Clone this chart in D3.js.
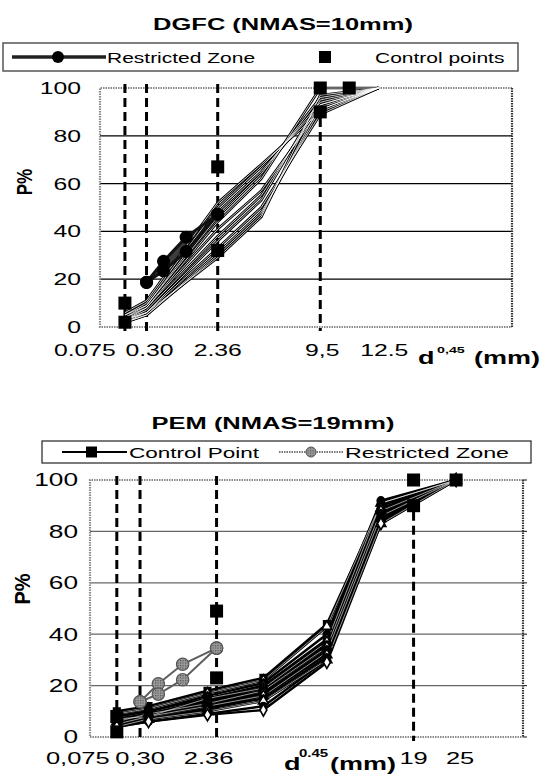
<!DOCTYPE html>
<html><head><meta charset="utf-8">
<script src="https://cdn.jsdelivr.net/npm/d3@7"></script>
<style>
html,body{margin:0;padding:0;background:#fff;}
svg{display:block;font-family:Arial,"Liberation Sans",sans-serif;}
</style></head><body>
<svg id="chart" width="545" height="775">
  <defs>
    <pattern id="dots" width="2.5" height="2.5" patternUnits="userSpaceOnUse">
      <rect width="2.5" height="2.5" fill="#9a9a9a"/>
      <rect width="1.2" height="1.2" fill="#555"/>
    </pattern>
  </defs>
</svg>
<script>
// ===== DGFC (NMAS = 10 mm) =====
const dgfcSieves = [0.075, 0.3, 2.36, 4.75, 9.5, 16];
const dgfcCurves = [
  [6, 11, 52, 68, 90, 100],
  [5, 10, 50, 67, 92, 100],
  [5, 9, 48, 65, 94, 100],
  [4, 9, 46, 64, 96, 100],
  [4, 8, 44, 62, 100, 100],
  [3, 8, 41, 57, 91, 100],
  [3, 7, 38, 55, 93, 100],
  [2, 6, 36, 53, 95, 100],
  [3, 6, 33, 50, 89, 100],
  [2, 5, 31, 48, 91, 100],
  [2, 5, 30, 47, 93, 100],
  [3, 6, 29, 46, 97, 100]
];
const dgfcControlSieves = [0.075, 0.075, 2.36, 2.36, 9.5, 9.5, 12.5];
const dgfcControlValues = [2, 10, 32, 67, 90, 100, 100];
const dgfcZoneSieves = [0.3, 0.6, 1.18, 2.36];
const dgfcZoneUpper = [18.7, 27.5, 37.6, 47.2];
const dgfcZoneLower = [18.7, 23.5, 31.6, 47.2];
const dgfcGuideSieves = [0.075, 0.3, 2.36, 9.5];
const dgfcGuideTop = [100, 100, 100, 90];
const dgfcTickValues = [0.075, 0.3, 2.36, 9.5, 12.5];
const dgfcTickLabels = ["0.075", "0.30", "2.36", "9,5", "12.5"];

// ===== PEM (NMAS = 19 mm) =====
const pemSieves = [0.075, 0.425, 2, 4.75, 9.5, 15, 25];
const pemCurves = [
  [10, 12, 18, 23, 44, 90, 100],
  [9, 11, 17, 22, 43, 91, 100],
  [8, 10, 16, 21, 40, 92, 100],
  [8, 10, 15, 20, 38, 90, 100],
  [7, 8, 15, 19, 37, 91, 100],
  [7, 9, 14, 19, 37, 89, 100],
  [7, 9, 14, 18, 36, 88, 100],
  [6, 9, 13, 18, 35, 88, 100],
  [6, 8, 13, 17, 34, 87, 100],
  [6, 8, 12, 17, 33, 86, 100],
  [5, 8, 12, 16, 33, 86, 100],
  [5, 7, 11, 16, 32, 85, 100],
  [5, 7, 11, 15, 31, 84, 100],
  [4, 7, 10, 14, 30, 83, 100],
  [4, 6, 9, 12, 30, 85, 100],
  [4, 6, 8.6, 10.5, 29, 83, 100]
];
const pemControlSieves = [0.075, 0.075, 2.36, 2.36, 19, 19, 25];
const pemControlValues = [2, 8, 23, 49, 90, 100, 100];
const pemZoneSieves = [0.3, 0.6, 1.18, 2.36];
const pemZoneUpper = [13.7, 20.7, 28.3, 34.6];
const pemZoneLower = [13.7, 16.7, 22.3, 34.6];
const pemGuideSieves = [0.075, 0.3, 2.36, 19];
const pemGuideTop = [100, 100, 100, 90];
const pemTickValues = [0.075, 0.3, 2.36, 19, 25];
const pemTickLabels = ["0,075", "0,30", "2.36", "19", "25"];

const yTickValues = [0, 20, 40, 60, 80, 100];

const svg = d3.select("#chart");

// Text drawn with a horizontal stretch (wide Excel-style lettering)
function label(parent, x, y, str, o) {
  const sx = o.sx == null ? 1.5 : o.sx;
  let tf = `translate(${x},${y}) scale(${sx},1)`;
  if (o.rotate) tf += ` rotate(${o.rotate})`;
  const t = parent.append("text")
    .attr("transform", tf)
    .attr("text-anchor", o.anchor || "middle")
    .attr("font-size", o.size)
    .attr("font-weight", o.weight || "normal")
    .attr("fill", o.fill || "#000");
  if (o.dy) t.attr("dy", o.dy);
  t.text(str);
  return t;
}

function frame(g, x, y, cfg) {
  const [x0, x1] = x.range();
  const [y0, y1] = y.range();
  // horizontal gridlines
  g.selectAll(null).data(yTickValues.filter(v => v > 0 && v < 100)).join("line")
    .attr("x1", x0).attr("x2", x1)
    .attr("y1", d => y(d)).attr("y2", d => y(d))
    .attr("stroke", cfg.gridColor).attr("stroke-width", 1.2);
  // plot border (dotted)
  g.append("path")
    .attr("d", `M${x1},${y1}H${x0}V${y0}H${x1}`)
    .attr("fill", "none").attr("stroke", "#8a8a8a")
    .attr("stroke-width", 2.2).attr("stroke-dasharray", "1.5,1");
  g.append("line")
    .attr("x1", x1).attr("x2", x1).attr("y1", y1).attr("y2", y0)
    .attr("stroke", "#333").attr("stroke-width", 2.2).attr("stroke-dasharray", "1.5,1");
  if (cfg.rightTicks) {
    g.selectAll(null).data(yTickValues).join("line")
      .attr("x1", x1).attr("x2", x1 + 4)
      .attr("y1", d => y(d)).attr("y2", d => y(d))
      .attr("stroke", "#333").attr("stroke-width", 1.2);
  }
  // y tick labels
  yTickValues.forEach(v => {
    label(g, cfg.yLabelX, y(v), String(v), {size: cfg.ySize, anchor: "end", dy: "0.36em"});
  });
}

function guides(g, x, y, sieves, tops) {
  g.selectAll(null).data(sieves).join("line")
    .attr("x1", d => x(d)).attr("x2", d => x(d))
    .attr("y1", (d, i) => y(tops[i]) + (tops[i] === 100 ? -4 : 6))
    .attr("y2", y(0) + 4)
    .attr("stroke", "#000").attr("stroke-width", 3)
    .attr("stroke-dasharray", "9,5");
}

// ------------------------------------------------------------
// Upper chart: DGFC
// ------------------------------------------------------------
{
  const x = d3.scalePow().exponent(0.45).domain([0, 38.2]).range([100, 512]);
  const y = d3.scaleLinear().domain([0, 100]).range([327, 88]);
  const g = svg.append("g");

  label(g, 283, 30, "DGFC (NMAS=10mm)", {size: 17, weight: "bold"});

  frame(g, x, y, {gridColor: "#000", yLabelX: 81, ySize: 16.5});
  guides(g, x, y, dgfcGuideSieves, dgfcGuideTop);

  // restricted zone band
  const zone = dgfcZoneSieves.map((s, i) => ({s, lo: dgfcZoneLower[i], hi: dgfcZoneUpper[i]}));
  g.append("path").datum(zone)
    .attr("d", d3.area().x(d => x(d.s)).y0(d => y(d.lo)).y1(d => y(d.hi)))
    .attr("fill", "#3c3c3c");

  // gradation curves (outlined strokes)
  const line = d3.line().x((d, i) => x(dgfcSieves[i])).y(d => y(d));
  const cg = g.append("g").attr("fill", "none").attr("stroke-linejoin", "round");
  cg.selectAll(".o").data(dgfcCurves).join("path")
    .attr("d", line).attr("stroke", "#000").attr("stroke-width", 2.6);
  cg.selectAll(".i").data(dgfcCurves).join("path")
    .attr("d", line).attr("stroke", "#fff").attr("stroke-width", 0.8);

  // restricted zone limits and points
  [dgfcZoneUpper, dgfcZoneLower].forEach(vals => {
    g.append("path").datum(vals)
      .attr("d", d3.line().x((d, i) => x(dgfcZoneSieves[i])).y(d => y(d)))
      .attr("fill", "none").attr("stroke", "#111").attr("stroke-width", 3);
    g.selectAll(null).data(vals).join("circle")
      .attr("cx", (d, i) => x(dgfcZoneSieves[i])).attr("cy", d => y(d))
      .attr("r", 6.5).attr("fill", "#000");
  });

  // control points
  g.selectAll(null).data(dgfcControlValues).join("rect")
    .attr("x", (d, i) => x(dgfcControlSieves[i]) - 6.5)
    .attr("y", d => y(d) - 6.5)
    .attr("width", 13).attr("height", 13).attr("fill", "#000");

  // axis labels
  const tickDx = [-40, 3, 0, 2, 35];
  dgfcTickValues.forEach((v, i) => {
    label(g, x(v) + tickDx[i], 356, dgfcTickLabels[i], {size: 16.5});
  });
  label(g, 418, 364, "d", {size: 18, weight: "bold", anchor: "start"});
  label(g, 437, 353, "0,45", {size: 9.5, weight: "bold", anchor: "start"});
  label(g, 474, 364, "(mm)", {size: 18, weight: "bold", anchor: "start"});
  label(g, 24, 182, "P%", {size: 17, weight: "bold", rotate: -90, sx: 1.3, dy: "0.36em"});

  // legend
  const lg = g.append("g");
  lg.append("rect").attr("x", 3).attr("y", 43).attr("width", 515).attr("height", 28)
    .attr("fill", "#fff").attr("stroke", "#555").attr("stroke-width", 1.5);
  lg.append("line").attr("x1", 12).attr("x2", 106).attr("y1", 57).attr("y2", 57)
    .attr("stroke", "#222").attr("stroke-width", 3.5);
  lg.append("circle").attr("cx", 58).attr("cy", 57).attr("r", 6).attr("fill", "#000");
  label(lg, 107, 63, "Restricted Zone", {size: 14, anchor: "start"});
  lg.append("rect").attr("x", 319).attr("y", 51).attr("width", 12).attr("height", 12).attr("fill", "#000");
  label(lg, 375, 63, "Control points", {size: 14, anchor: "start"});
}

// ------------------------------------------------------------
// Lower chart: PEM
// ------------------------------------------------------------
{
  const x = d3.scalePow().exponent(0.45).domain([0, 36.3]).range([90, 523]);
  const y = d3.scaleLinear().domain([0, 100]).range([737, 480]);
  const g = svg.append("g");

  label(g, 273, 429, "PEM (NMAS=19mm)", {size: 17, weight: "bold"});

  frame(g, x, y, {gridColor: "#666", yLabelX: 78, ySize: 17.5, rightTicks: true});
  guides(g, x, y, pemGuideSieves, pemGuideTop);

  // gradation curves with markers
  const line = d3.line().x((d, i) => x(pemSieves[i])).y(d => y(d));
  const cg = g.append("g").attr("fill", "none").attr("stroke-linejoin", "round");
  cg.selectAll(".o").data(pemCurves).join("path")
    .attr("d", line).attr("stroke", "#000").attr("stroke-width", 2.4);
  cg.selectAll(".i").data(pemCurves.filter((c, i) => i % 3 === 1)).join("path")
    .attr("d", line).attr("stroke", "#fff").attr("stroke-width", 0.6);

  const shapes = [d3.symbolSquare, d3.symbolTriangle, d3.symbolCircle, d3.symbolDiamond, d3.symbolSquare, d3.symbolTriangle];
  pemCurves.forEach((c, k) => {
    const sym = d3.symbol().type(shapes[k % shapes.length]).size(42);
    const open = k % 2 === 1 || k === pemCurves.length - 1;
    g.selectAll(null).data(c).join("path")
      .attr("transform", (d, i) => `translate(${x(pemSieves[i])},${y(d)})`)
      .attr("d", sym)
      .attr("fill", open ? "#fff" : "#000")
      .attr("stroke", "#000").attr("stroke-width", 1.6);
  });

  // restricted zone (grey)
  [pemZoneUpper, pemZoneLower].forEach(vals => {
    g.append("path").datum(vals)
      .attr("d", d3.line().x((d, i) => x(pemZoneSieves[i])).y(d => y(d)))
      .attr("fill", "none").attr("stroke", "#5e5e5e").attr("stroke-width", 2);
  });
  [pemZoneUpper, pemZoneLower].forEach(vals => {
    g.selectAll(null).data(vals).join("circle")
      .attr("cx", (d, i) => x(pemZoneSieves[i])).attr("cy", d => y(d))
      .attr("r", 6.2).attr("fill", "url(#dots)").attr("stroke", "#555").attr("stroke-width", 1.2);
  });

  // control points
  g.selectAll(null).data(pemControlValues).join("rect")
    .attr("x", (d, i) => x(pemControlSieves[i]) - 6.5)
    .attr("y", d => y(d) - 6.5)
    .attr("width", 13).attr("height", 13).attr("fill", "#000");

  // axis labels
  const tickDx = [-39, 0, -8, 0, 4];
  pemTickValues.forEach((v, i) => {
    label(g, x(v) + tickDx[i], 764, pemTickLabels[i], {size: 17});
  });
  label(g, 284, 770, "d", {size: 18, weight: "bold", anchor: "start"});
  label(g, 299, 757, "0.45", {size: 10, weight: "bold", anchor: "start"});
  label(g, 330, 770, "(mm)", {size: 18, weight: "bold", anchor: "start"});
  label(g, 22, 589, "P%", {size: 20, weight: "bold", rotate: -90, sx: 1.1, dy: "0.36em"});

  // legend
  const lg = g.append("g");
  lg.append("rect").attr("x", 42).attr("y", 441).attr("width", 489).attr("height", 22)
    .attr("fill", "#fff").attr("stroke", "#222").attr("stroke-width", 1.2);
  lg.append("line").attr("x1", 62).attr("x2", 127).attr("y1", 452).attr("y2", 452)
    .attr("stroke", "#000").attr("stroke-width", 2);
  lg.append("rect").attr("x", 86).attr("y", 446.5).attr("width", 11).attr("height", 11).attr("fill", "#000");
  label(lg, 129, 458, "Control Point", {size: 15, anchor: "start"});
  lg.append("line").attr("x1", 279).attr("x2", 343).attr("y1", 452).attr("y2", 452)
    .attr("stroke", "#777").attr("stroke-width", 2).attr("stroke-dasharray", "1.5,1");
  lg.append("circle").attr("cx", 311).attr("cy", 452).attr("r", 5)
    .attr("fill", "url(#dots)").attr("stroke", "#555");
  label(lg, 345, 458, "Restricted Zone", {size: 15.5, anchor: "start"});
}
</script>
</body></html>
